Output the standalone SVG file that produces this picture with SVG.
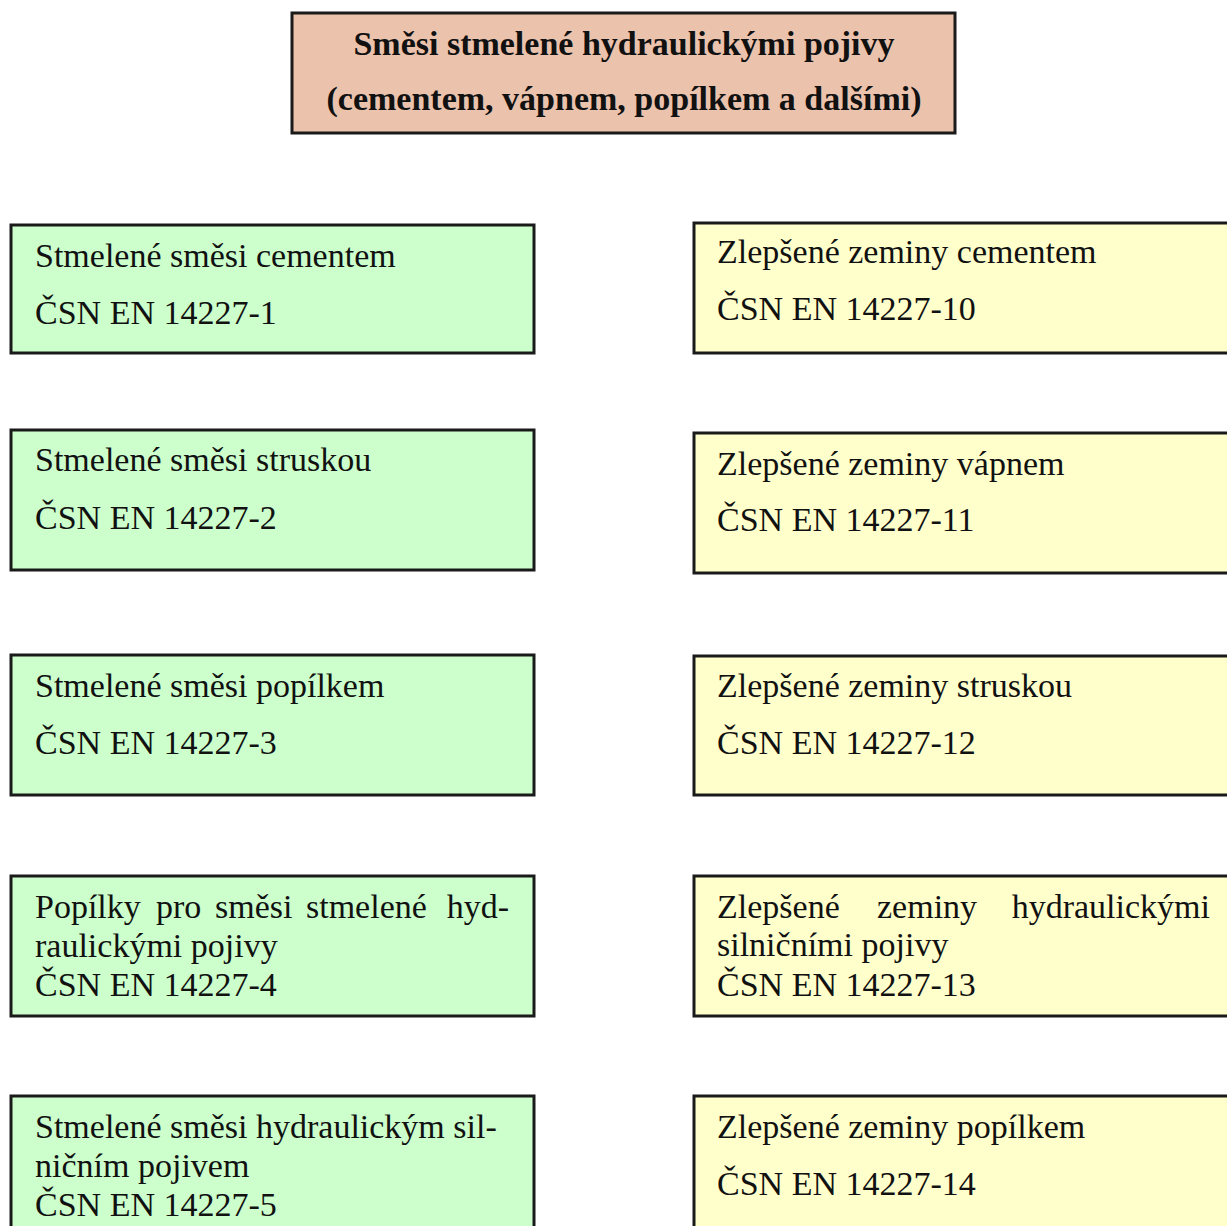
<svg xmlns="http://www.w3.org/2000/svg" width="1227" height="1226" viewBox="0 0 1227 1226">
<style>
.box{stroke:#1a1a1a;stroke-width:3}
.head{fill:#EBC2AC}
.g{fill:#CCFFCC}
.y{fill:#FFFFCC}
text{font-family:"Liberation Serif","Times New Roman",serif;fill:#111}
.t{font-size:34px;font-weight:bold}
.n{font-size:34px}
</style>
<rect width="1227" height="1226" fill="#fff"/>
<g id="head">
<rect class="box head" x="292" y="13" width="663" height="120"/>
<text class="t" x="624" y="55" text-anchor="middle">Směsi stmelené hydraulickými pojivy</text>
<text class="t" x="624" y="110" text-anchor="middle">(cementem, vápnem, popílkem a dalšími)</text>
</g>
<g id="connectors"></g>
<g id="g1">
<rect class="box g" x="11" y="225" width="523" height="128"/>
<text class="n" x="35" y="267">Stmelené směsi cementem</text>
<text class="n" x="35" y="324">ČSN EN 14227-1</text>
</g>
<g id="g2">
<rect class="box g" x="11" y="430" width="523" height="140"/>
<text class="n" x="35" y="471">Stmelené směsi struskou</text>
<text class="n" x="35" y="529">ČSN EN 14227-2</text>
</g>
<g id="g3">
<rect class="box g" x="11" y="655" width="523" height="140"/>
<text class="n" x="35" y="697">Stmelené směsi popílkem</text>
<text class="n" x="35" y="754">ČSN EN 14227-3</text>
</g>
<g id="g4">
<rect class="box g" x="11" y="876" width="523" height="140"/>
<text class="n" y="918"><tspan x="35">Popílky</tspan><tspan x="156">pro</tspan><tspan x="215">směsi</tspan><tspan x="306">stmelené</tspan></text>
<text class="n" x="509" y="918" text-anchor="end">hyd-</text>
<text class="n" x="35" y="957">raulickými pojivy</text>
<text class="n" x="35" y="996">ČSN EN 14227-4</text>
</g>
<g id="g5">
<rect class="box g" x="11" y="1096" width="523" height="140"/>
<text class="n" x="35" y="1138">Stmelené směsi hydraulickým sil-</text>
<text class="n" x="35" y="1177">ničním pojivem</text>
<text class="n" x="35" y="1216">ČSN EN 14227-5</text>
</g>
<g id="y1">
<rect class="box y" x="694" y="223" width="545" height="130"/>
<text class="n" x="717" y="263">Zlepšené zeminy cementem</text>
<text class="n" x="717" y="320">ČSN EN 14227-10</text>
</g>
<g id="y2">
<rect class="box y" x="694" y="433" width="545" height="140"/>
<text class="n" x="717" y="475">Zlepšené zeminy vápnem</text>
<text class="n" x="717" y="531">ČSN EN 14227-11</text>
</g>
<g id="y3">
<rect class="box y" x="694" y="656" width="545" height="139"/>
<text class="n" x="717" y="697">Zlepšené zeminy struskou</text>
<text class="n" x="717" y="754">ČSN EN 14227-12</text>
</g>
<g id="y4">
<rect class="box y" x="694" y="876" width="545" height="140"/>
<text class="n" y="918"><tspan x="717">Zlepšené</tspan><tspan x="877">zeminy</tspan></text>
<text class="n" x="1210" y="918" text-anchor="end">hydraulickými</text>
<text class="n" x="717" y="956">silničními pojivy</text>
<text class="n" x="717" y="996">ČSN EN 14227-13</text>
</g>
<g id="y5">
<rect class="box y" x="694" y="1096" width="545" height="140"/>
<text class="n" x="717" y="1138">Zlepšené zeminy popílkem</text>
<text class="n" x="717" y="1195">ČSN EN 14227-14</text>
</g>
</svg>
